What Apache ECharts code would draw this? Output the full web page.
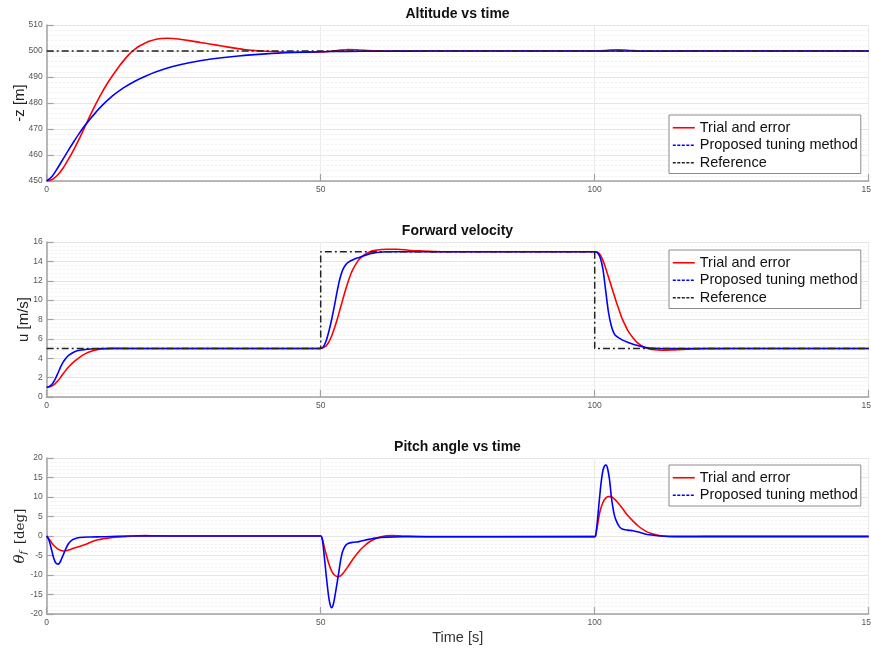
<!DOCTYPE html>
<html>
<head>
<meta charset="utf-8">
<script src="https://cdn.jsdelivr.net/npm/echarts@6/dist/echarts.min.js"></script>
<style>
  html, body { margin: 0; padding: 0; background: #fff; }
  #chart { width: 871px; height: 648px; }
</style>
</head>
<body>
<div id="chart"></div>
<script>
// ---- Altitude (-z) [m] ----
const altTrialT = [0, 1, 2, 3, 4, 5, 6, 7, 8, 9, 10, 11, 12, 13, 14, 15, 16, 17, 18, 19, 20, 21, 22, 23, 24, 26, 28, 30, 32, 34, 36, 38, 40, 43, 46, 50, 53, 55, 57, 60, 65, 70, 100, 102, 104, 106, 109, 112, 120, 150];
const altTrialV = [450, 450.6, 452.3, 455, 458.5, 462.3, 466.5, 471, 475.5, 479.8, 483.7, 487.3, 490.5, 493.5, 496.2, 498.6, 500.5, 502, 503.1, 503.9, 504.5, 504.8, 504.9, 504.8, 504.6, 504, 503.3, 502.6, 501.9, 501.2, 500.6, 500.2, 499.9, 499.6, 499.5, 499.6, 500.2, 500.6, 500.4, 500.1, 499.95, 500, 500, 500.2, 500.5, 500.3, 499.9, 499.9, 500, 500];
const altPropT = [0, 1, 2, 3, 4, 5, 6, 7, 8, 9, 10, 12, 14, 16, 18, 20, 23, 26, 30, 35, 40, 45, 50, 55, 60, 70, 150];
const altPropV = [450, 451.8, 455, 458.5, 462, 465.3, 468.5, 471.4, 474, 476.5, 478.8, 482.7, 485.8, 488.3, 490.3, 492, 494, 495.5, 496.9, 498.1, 498.9, 499.4, 499.7, 499.85, 499.9, 500, 500];
const altRefT = [0, 150];
const altRefV = [500, 500];

// ---- Forward velocity u [m/s] ----
const velTrialT = [0, 0.5, 1, 1.5, 2, 2.5, 3, 4, 5, 6, 7, 8, 9, 10, 12, 20, 50, 50.5, 51, 51.5, 52, 52.5, 53, 53.5, 54, 54.5, 55, 55.5, 56, 56.5, 57, 58, 59, 60, 62, 64, 66, 68, 72, 100, 100.5, 101, 101.5, 102, 102.5, 103, 103.5, 104, 104.5, 105, 105.5, 106, 107, 108, 109, 110, 111, 112, 114, 116, 118, 120, 125, 150];
const velTrialV = [1, 1.03, 1.15, 1.35, 1.65, 2.0, 2.4, 3.1, 3.65, 4.1, 4.45, 4.7, 4.85, 4.95, 5.02, 5.0, 5, 5.1, 5.3, 5.7, 6.3, 7.1, 8.0, 9.0, 10.0, 11.0, 11.9, 12.7, 13.3, 13.8, 14.2, 14.7, 15.0, 15.15, 15.25, 15.25, 15.15, 15.08, 15.0, 15, 14.95, 14.7, 14.1, 13.3, 12.4, 11.5, 10.6, 9.7, 8.9, 8.1, 7.5, 6.9, 6.1, 5.5, 5.15, 4.95, 4.87, 4.84, 4.86, 4.92, 4.96, 4.99, 5.0, 5.0];
const velPropT = [0, 0.5, 1, 1.5, 2, 2.5, 3, 3.5, 4, 5, 6, 7, 8, 10, 50, 50.5, 51, 51.5, 52, 52.5, 53, 53.5, 54, 54.5, 55, 56, 57, 58, 59, 60, 62, 100, 100.5, 101, 101.5, 102, 102.5, 103, 103.5, 104, 105, 106, 107, 108, 109, 110, 112, 150];
const velPropV = [1, 1.1, 1.35, 1.8, 2.4, 3.05, 3.6, 4.0, 4.3, 4.65, 4.82, 4.9, 4.95, 5.0, 5, 5.2, 5.8, 6.8, 8.0, 9.4, 10.9, 12.2, 13.1, 13.6, 13.9, 14.2, 14.4, 14.6, 14.8, 14.9, 15, 15, 14.9, 14.4, 13.2, 11.0, 8.8, 7.4, 6.6, 6.25, 5.9, 5.65, 5.45, 5.3, 5.15, 5.05, 5.0, 5.0];
const velRefT = [0, 50, 50, 100, 100, 150];
const velRefV = [5, 5, 15, 15, 5, 5];

// ---- Pitch angle θf [deg] ----
const pitTrialT = [0, 0.3, 0.6, 1, 1.5, 2, 2.5, 3, 3.5, 4, 5, 6, 7, 8, 9, 10, 11, 12, 14, 16, 18, 20, 25, 50, 50.3, 50.6, 51, 51.5, 52, 52.5, 53, 53.5, 54, 54.5, 55, 56, 57, 58, 59, 60, 61, 62, 63, 65, 70, 100, 100.3, 100.6, 101, 101.5, 102, 102.5, 103, 103.5, 104, 105, 106, 107, 108, 109, 110, 111, 112, 114, 117, 120, 150];
const pitTrialV = [0, -0.5, -1.1, -1.9, -2.7, -3.3, -3.65, -3.85, -3.8, -3.6, -3.1, -2.7, -2.2, -1.6, -1.1, -0.8, -0.6, -0.4, -0.2, 0, 0.1, 0.05, 0, 0, -0.8, -2.5, -4.7, -7.2, -9.0, -10.0, -10.4, -10.3, -9.7, -8.8, -7.8, -5.7, -3.9, -2.5, -1.4, -0.7, -0.2, 0.05, 0.1, 0, -0.15, -0.15, 1.0, 3.5, 6.5, 8.6, 9.7, 10.1, 10.1, 9.6, 8.9, 7.2, 5.3, 3.8, 2.5, 1.5, 0.8, 0.35, 0.05, -0.2, -0.2, -0.15, -0.15];
const pitPropT = [0, 0.3, 0.6, 0.9, 1.2, 1.5, 1.8, 2.1, 2.4, 2.7, 3.0, 3.3, 3.6, 4, 4.5, 5, 6, 8, 10, 15, 50, 50.3, 50.6, 51, 51.4, 51.7, 52, 52.3, 52.7, 53, 53.3, 53.6, 54, 54.5, 55, 56, 57, 58, 59, 60, 62, 65, 100, 100.3, 100.6, 100.9, 101.2, 101.5, 101.8, 102.1, 102.4, 102.7, 103, 103.3, 103.6, 104, 104.5, 105, 106, 107, 108, 109, 110, 112, 115, 150];
const pitPropV = [0, -0.7, -1.9, -3.6, -5.3, -6.5, -7.1, -7.2, -6.8, -5.9, -4.9, -3.9, -2.9, -1.9, -1.2, -0.8, -0.4, -0.25, -0.2, 0, 0, -1.0, -4.5, -10.0, -15.0, -17.5, -18.4, -17.5, -14.5, -12.0, -9.3, -6.5, -4.0, -2.5, -1.9, -1.6, -1.45, -1.1, -0.8, -0.55, -0.3, -0.2, -0.15, 1.5, 5.5, 10.0, 14.0, 16.8, 18.0, 18.2, 17.0, 14.5, 10.5, 7.5, 5.3, 3.7, 2.4, 1.8, 1.5, 1.35, 1.0, 0.6, 0.3, 0, -0.1, -0.1];

// ---- Axis ticks ----
const timeTicks = [0, 50, 100, 150];
const altRange = [450, 510, 10];
const velRange = [0, 16, 2];
const pitRange = [-20, 20, 5];

const panelTitles = ['Altitude vs time', 'Forward velocity', 'Pitch angle vs time'];
const nameTrial = 'Trial and error';
const nameProp = 'Proposed tuning method';
const nameRef = 'Reference';

const pairs = (t, v) => t.map((x, i) => [x, v[i]]);

const FONT = 'Liberation Sans';
const grids = [
  { left: 46.7, top: 25, width: 822, height: 156 },
  { left: 46.7, top: 242, width: 822, height: 155 },
  { left: 46.7, top: 458, width: 822, height: 156 }
].map(g => Object.assign(g, { containLabel: false, outerBoundsMode: 'none' }));

const axisGray = '#a3a3a3';
const labelGray = '#555';

function xAxisFor(i) {
  return {
    type: 'value', gridIndex: i, min: 0, max: 150, interval: 10,
    name: i === 2 ? 'Time [s]' : '',
    nameLocation: 'middle', nameGap: 16, nameMoveOverlap: false,
    nameTextStyle: { fontFamily: FONT, fontSize: 14.5, color: '#333' },
    axisLine: { show: true, onZero: false, lineStyle: { color: axisGray, width: 1.5 } },
    axisTick: { show: true, inside: true, length: 7, customValues: timeTicks, lineStyle: { color: axisGray, width: 1.2 } },
    axisLabel: { customValues: timeTicks, fontFamily: FONT, fontSize: 8.5, color: labelGray, margin: 4, hideOverlap: false },
    splitLine: { show: true, lineStyle: { color: '#ebebeb', width: 1 } }
  };
}

function yAxisFor(i, range, name, extra) {
  return Object.assign({
    type: 'value', gridIndex: i, min: range[0], max: range[1], interval: range[2],
    name: name, nameLocation: 'middle', nameGap: 16, nameRotate: 90, nameMoveOverlap: false,
    nameTextStyle: { fontFamily: FONT, fontSize: 15, color: '#222' },
    axisLine: { show: true, lineStyle: { color: axisGray, width: 1.5 } },
    axisTick: { show: true, inside: true, length: 7, lineStyle: { color: axisGray, width: 1.2 } },
    axisLabel: { fontFamily: FONT, fontSize: 8.5, color: labelGray, margin: 4 },
    splitLine: { show: true, lineStyle: { color: '#e6e6e6', width: 1 } },
    minorTick: { show: false, splitNumber: 5 },
    minorSplitLine: { show: true, lineStyle: { color: '#efefef', width: 1, type: [2, 2] } }
  }, extra || {});
}

function curve(name, i, data, color) {
  return {
    type: 'line', name: name, xAxisIndex: i, yAxisIndex: i, data: data,
    symbol: 'none', smooth: 0.3,
    lineStyle: { color: color, width: 1.6 }, itemStyle: { color: color },
    animation: false
  };
}

function refLine(i, data) {
  return {
    type: 'line', name: nameRef, xAxisIndex: i, yAxisIndex: i, data: data,
    symbol: 'none',
    lineStyle: { color: '#222', width: 1.5, type: [7, 3, 2, 3] }, itemStyle: { color: '#222' },
    animation: false
  };
}

// legend keys are plain line samples, no marker
const hiddenMarker = { color: 'rgba(0,0,0,0)', borderColor: 'rgba(0,0,0,0)', borderWidth: 0, opacity: 0 };

function legendFor(top, withRef) {
  const items = [
    { name: nameTrial, itemStyle: hiddenMarker, lineStyle: { type: 'solid', width: 1.6, color: '#ff0000' } },
    { name: nameProp, itemStyle: hiddenMarker, lineStyle: { type: [3, 1.5], width: 1.6, color: '#0000ff' } }
  ];
  if (withRef) items.push({ name: nameRef, itemStyle: hiddenMarker, lineStyle: { type: [3, 1.5], width: 1.3, color: '#222' } });
  return {
    orient: 'vertical', left: 669, top: top, data: items,
    itemWidth: 22, itemHeight: 12, itemGap: 0,
    padding: [4, 3, 2, 3],
    backgroundColor: '#fff', borderColor: '#8c8c8c', borderWidth: 1,
    itemStyle: hiddenMarker,
    textStyle: { fontFamily: FONT, fontSize: 14.5, color: '#111', lineHeight: 17.5 },
    selectedMode: false
  };
}

const titleTops = [7, 224.5, 440];

const option = {
  backgroundColor: '#fff',
  animation: false,
  title: panelTitles.map((t, i) => ({
    text: t, left: 457.5, top: titleTops[i], textAlign: 'center', padding: 0,
    textStyle: { fontFamily: FONT, fontSize: 14, fontWeight: 'bold', color: '#111' }
  })),
  grid: grids,
  legend: [legendFor(115, true), legendFor(250, true), legendFor(465, false)],
  xAxis: [xAxisFor(0), xAxisFor(1), xAxisFor(2)],
  yAxis: [
    yAxisFor(0, altRange, '-z [m]', { nameGap: 19 }),
    yAxisFor(1, velRange, 'u [m/s]', { nameGap: 15 }),
    yAxisFor(2, pitRange, '{th|θ}{sub|f}  {d|[deg]}', {
      nameGap: 18,
      nameTextStyle: {
        color: '#222',
        rich: {
          th: { fontFamily: 'DejaVu Serif', fontStyle: 'italic', fontSize: 15, color: '#222' },
          sub: { fontFamily: 'DejaVu Serif', fontStyle: 'italic', fontSize: 9.5, color: '#222', verticalAlign: 'bottom', padding: [7, 0, 0, 0] },
          d: { fontFamily: 'DejaVu Serif', fontSize: 13.5, color: '#222' }
        }
      }
    })
  ],
  series: [
    curve(nameTrial, 0, pairs(altTrialT, altTrialV), '#ff0000'),
    curve(nameProp, 0, pairs(altPropT, altPropV), '#0000ff'),
    refLine(0, pairs(altRefT, altRefV)),
    curve(nameTrial, 1, pairs(velTrialT, velTrialV), '#ff0000'),
    curve(nameProp, 1, pairs(velPropT, velPropV), '#0000ff'),
    refLine(1, pairs(velRefT, velRefV)),
    curve(nameTrial, 2, pairs(pitTrialT, pitTrialV), '#ff0000'),
    curve(nameProp, 2, pairs(pitPropT, pitPropV), '#0000ff')
  ]
};

const chart = echarts.init(document.getElementById('chart'), null, { renderer: 'canvas' });
chart.setOption(option);
</script>
</body>
</html>
